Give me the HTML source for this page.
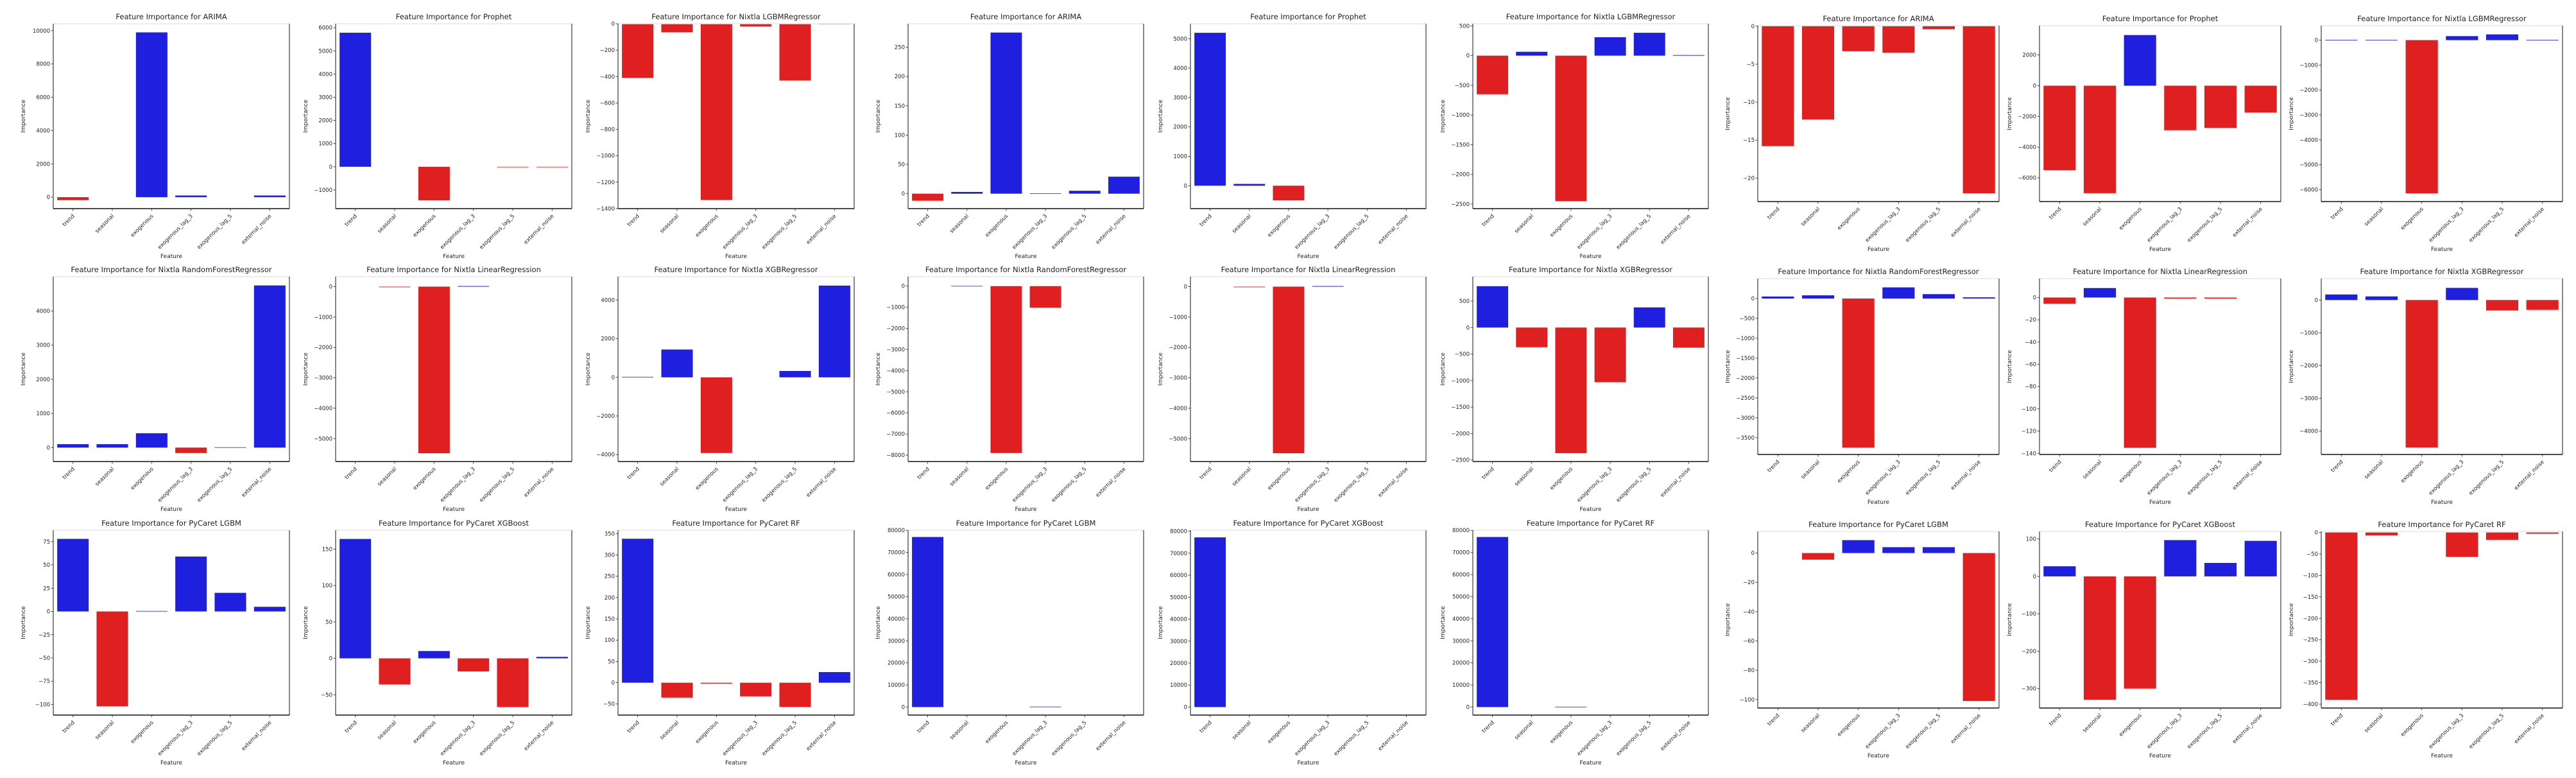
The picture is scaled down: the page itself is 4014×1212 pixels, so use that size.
<!DOCTYPE html>
<html><head><meta charset="utf-8">
<style>
html,body{margin:0;padding:0;background:#fff;width:4014px;height:1212px;overflow:hidden}
svg{display:block}
text{font-family:"DejaVu Sans","Liberation Sans",sans-serif;fill:#222}
</style></head>
<body>
<svg id="chart" width="4014" height="1212" viewBox="0 0 4014 1212" xmlns="http://www.w3.org/2000/svg"></svg>
<script>
const features = ["trend","seasonal","exogenous","exogenous_lag_3","exogenous_lag_5","external_noise"];
const titles = ["Feature Importance for ARIMA","Feature Importance for Prophet","Feature Importance for Nixtla LGBMRegressor",
"Feature Importance for Nixtla RandomForestRegressor","Feature Importance for Nixtla LinearRegression","Feature Importance for Nixtla XGBRegressor",
"Feature Importance for PyCaret LGBM","Feature Importance for PyCaret XGBoost","Feature Importance for PyCaret RF"];

// Left figure values
const vL1 = [-180,0,9900,100,0,100];
const vL2 = [5785,0,-1450,0,-20,-20];
const vL3 = [-410,-65,-1335,-20,-430,-5];
const vL4 = [100,100,420,-160,10,4750];
const vL5 = [0,-20,-5480,20,0,0];
const vL6 = [20,1440,-3920,0,330,4750];
const vL7 = [78,-102,0.5,59,20,5];
const vL8 = [164,-36,10,-18,-67,2];
const vL9 = [338,-35,-2,-32,-57,25];
// Middle figure values
const vM1 = [-12,3,275,0.5,5,29];
const vM2 = [5200,60,-500,0,0,0];
const vM3 = [-650,65,-2450,310,385,10];
const vM4 = [0,10,-7900,-1020,0,0];
const vM5 = [0,-20,-5480,20,0,0];
const vM6 = [780,-370,-2370,-1030,380,-380];
const vM7 = [77000,0,0,200,0,0];
const vM8 = [77200,0,0,0,0,0];
const vM9 = [77000,0,150,0,0,0];
// Right figure values
const vR1 = [-15.8,-12.3,-3.3,-3.5,-0.4,-22];
const vR2 = [-5500,-7000,3300,-2900,-2750,-1750];
const vR3 = [10,10,-6150,160,230,10];
const vR4 = [50,80,-3750,280,110,30];
const vR5 = [-5.5,8.5,-135,-1,-1,0];
const vR6 = [170,110,-4500,370,-320,-300];
const vR7 = [0,-4.5,8.8,4,4,-101];
const vR8 = [27,-330,-300,97,36,95];
const vR9 = [-390,-7,0,-57,-17,-3];

// tick labels
const tL1=[0,2000,4000,6000,8000,10000], tL2=[-1000,0,1000,2000,3000,4000,5000,6000], tL3=[-1400,-1200,-1000,-800,-600,-400,-200,0];
const tL4=[0,1000,2000,3000,4000], tL5=[-5000,-4000,-3000,-2000,-1000,0], tL6=[-4000,-2000,0,2000,4000];
const tL7=[-100,-75,-50,-25,0,25,50,75], tL8=[-50,0,50,100,150], tL9=[-50,0,50,100,150,200,250,300,350];
const tM1=[0,50,100,150,200,250], tM2=[0,1000,2000,3000,4000,5000], tM3=[-2500,-2000,-1500,-1000,-500,0,500];
const tM4=[-8000,-7000,-6000,-5000,-4000,-3000,-2000,-1000,0], tM5=[-5000,-4000,-3000,-2000,-1000,0], tM6=[-2500,-2000,-1500,-1000,-500,0,500];
const tM7=[0,10000,20000,30000,40000,50000,60000,70000,80000], tM8=tM7, tM9=tM7;
const tR1=[-20,-15,-10,-5,0], tR2=[-6000,-4000,-2000,0,2000], tR3=[-6000,-5000,-4000,-3000,-2000,-1000,0];
const tR4=[-3500,-3000,-2500,-2000,-1500,-1000,-500,0], tR5=[-140,-120,-100,-80,-60,-40,-20,0], tR6=[-4000,-3000,-2000,-1000,0];
const tR7=[-100,-80,-60,-40,-20,0], tR8=[-300,-200,-100,0,100], tR9=[-400,-350,-300,-250,-200,-150,-100,-50,0];

// y-axis limits [min,max]
const yL1=[-689,10419], yL2=[-1806,6172], yL3=[-1400,0], yL4=[-409,5007], yL5=[-5754,328], yL6=[-4361,5213], yL7=[-111.4,87.3], yL8=[-78,176], yL9=[-76,358];
const yM1=[-25.5,290], yM2=[-780,5508], yM3=[-2576,537], yM4=[-8302,448], yM5=[-5754,328], yM6=[-2528,960], yM7=[-3636,80068], yM8=[-3657,80457], yM9=[-3636,80068];
const yR1=[-23.1,0.07], yR2=[-7548,3910], yR3=[-6480,580], yR4=[-3922,501], yR5=[-141,17], yR6=[-4715,654], yR7=[-105.8,14.7], yR8=[-352,120], yR9=[-409,2.3];

const figs = [
 {key:"left", cols:[83,523,963], w:368, rows:[[37,325],[431,719],[826,1114]],
  vals:[vL1,vL2,vL3,vL4,vL5,vL6,vL7,vL8,vL9], ticks:[tL1,tL2,tL3,tL4,tL5,tL6,tL7,tL8,tL9], lims:[yL1,yL2,yL3,yL4,yL5,yL6,yL7,yL8,yL9]},
 {key:"middle", cols:[1415,1855,2295], w:367, rows:[[37,325],[431,719],[826,1114]],
  vals:[vM1,vM2,vM3,vM4,vM5,vM6,vM7,vM8,vM9], ticks:[tM1,tM2,tM3,tM4,tM5,tM6,tM7,tM8,tM9], lims:[yM1,yM2,yM3,yM4,yM5,yM6,yM7,yM8,yM9]},
 {key:"right", cols:[2739,3178,3617], w:376, rows:[[40,314],[434,708],[828,1103]],
  vals:[vR1,vR2,vR3,vR4,vR5,vR6,vR7,vR8,vR9], ticks:[tR1,tR2,tR3,tR4,tR5,tR6,tR7,tR8,tR9], lims:[yR1,yR2,yR3,yR4,yR5,yR6,yR7,yR8,yR9]}
];

const NS="http://www.w3.org/2000/svg";
const svg=document.getElementById("chart");
function mk(tag,attrs,parent){const e=document.createElementNS(NS,tag);for(const k in attrs)e.setAttribute(k,attrs[k]);parent.appendChild(e);return e;}
function fmt(v){return v<0?"\u2212"+Math.abs(v):String(v);}

figs.forEach(fig=>{
  for(let p=0;p<9;p++){
    const r=Math.floor(p/3), c=p%3;
    const x0=fig.cols[c], x1=x0+fig.w, y0=fig.rows[r][0], y1=fig.rows[r][1];
    const lim=fig.lims[p], vals=fig.vals[p], ticks=fig.ticks[p];
    const ys=v=>y1-(v-lim[0])/(lim[1]-lim[0])*(y1-y0);
    const slot=(x1-x0)/features.length;
    const xs=i=>x0+slot*(i+0.5);
    const g=mk("g",{},svg);
    
    
    const t=mk("text",{x:(x0+x1)/2,y:y0-7,"text-anchor":"middle","font-size":"11.5"},g);
    t.textContent=titles[p];
    
    
    // bars
    vals.forEach((v,i)=>{
      if(v===0) return;
      const ya=ys(Math.max(v,0)), yb=ys(Math.min(v,0));
      const b=mk("rect",{x:xs(i)-slot*0.4,y:ya,width:slot*0.8,height:Math.max(yb-ya,0.8),fill:v>=0?"#1f1fe0":"#e02020"},g);
      
      
    });
    // spines
    mk("line",{x1:x0,y1:y0,x2:x1,y2:y0,stroke:"#e6e6e6","stroke-width":1.5},g);
    mk("line",{x1:x1,y1:y0,x2:x1,y2:y1,stroke:"#111","stroke-width":1},g);
    mk("line",{x1:x0,y1:y0,x2:x0,y2:y1,stroke:"#111","stroke-width":1},g);
    mk("line",{x1:x0,y1:y1,x2:x1,y2:y1,stroke:"#111","stroke-width":1.5},g);
    // y ticks
    ticks.forEach(tv=>{
      const y=ys(tv);
      mk("line",{x1:x0-3.5,y1:y,x2:x0,y2:y,stroke:"#222","stroke-width":0.8},g);
      const tl=mk("text",{x:x0-5,y:y+3,"text-anchor":"end","font-size":"8.5"},g);
      tl.textContent=fmt(tv);
      
      
    });
    // x ticks
    features.forEach((f,i)=>{
      const x=xs(i);
      mk("line",{x1:x,y1:y1,x2:x,y2:y1+3.5,stroke:"#222","stroke-width":0.8},g);
      const xl=mk("text",{x:x+3,y:y1+12,"text-anchor":"end","font-size":"8.5",transform:`rotate(-45 ${x+3} ${y1+12})`},g);
      xl.textContent=f;
      
      
    });
    const xt=mk("text",{x:(x0+x1)/2,y:y1+77,"text-anchor":"middle","font-size":"9"},g);
    xt.textContent="Feature";
    
    
    const yx=x0-44, yy=(y0+y1)/2;
    const yt=mk("text",{x:yx,y:yy,"text-anchor":"middle","font-size":"9",transform:`rotate(-90 ${yx} ${yy})`},g);
    yt.textContent="Importance";
    
    
  }
});
</script>
</body></html>
